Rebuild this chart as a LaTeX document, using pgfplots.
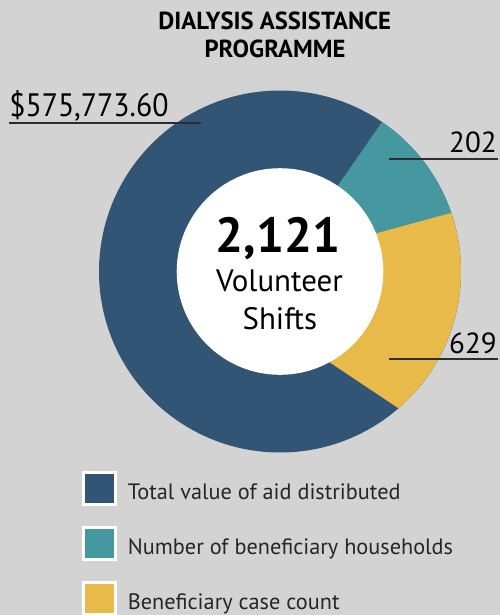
\documentclass[border=0pt]{standalone}
\usepackage{graphicx}
\usepackage{pgfplots}
\pgfplotsset{compat=1.18}
\usepackage{fontspec}
\setmainfont{PT Sans}
\definecolor{bg}{RGB}{211,211,211}
\definecolor{cblue}{RGB}{50,84,117}
\definecolor{cteal}{RGB}{69,152,160}
\definecolor{cyellow}{RGB}{232,186,74}
\definecolor{uline}{RGB}{45,45,45}
\begin{document}
\begin{tikzpicture}
\begin{axis}[
  x=0.75pt, y=0.75pt, y dir=reverse,
  xmin=0, xmax=500, ymin=0, ymax=615,
  enlargelimits=false, hide axis, clip=false,
  legend cell align=left,
  legend style={at={(axis cs:82.2,471.2)}, anchor=north west, draw=none, fill=none,
    inner sep=0pt, outer sep=0pt, row sep=14.9pt, column sep=8pt,
    font=\fontsize{16.7}{18}\selectfont, text=black!85,
    nodes={inner sep=0pt}},
]
% background
\fill[bg] (axis cs:0,0) rectangle (axis cs:500,615);
\coordinate (bbA) at (axis cs:0,615);
\coordinate (bbB) at (axis cs:500,0);
% donut: centre (280,271.5), outer radius 181, inner radius 103.3 (axis units)
\fill[cblue] (axis cs:280,271.5) circle[radius=135.75pt];
% teal slice: outer 55.7 -> 18.9 deg
\fill[cteal] (axis cs:{280+181*cos(55.7)},{271.5-181*sin(55.7)})
  arc[start angle=55.7, end angle=18.9, radius=135.75pt]
  -- (axis cs:{280+103.3*cos(21.7)},{271.5-103.3*sin(21.7)})
  -- (axis cs:280,271.5)
  -- (axis cs:{280+103.3*cos(56)},{271.5-103.3*sin(56)}) -- cycle;
% yellow slice: outer 18.9 -> -49.1 deg
\fill[cyellow] (axis cs:{280+181*cos(18.9)},{271.5-181*sin(18.9)})
  arc[start angle=18.9, end angle=-49.1, radius=135.75pt]
  -- (axis cs:{280+103.3*cos(-61.4)},{271.5-103.3*sin(-61.4)})
  -- (axis cs:280,271.5)
  -- (axis cs:{280+103.3*cos(21.7)},{271.5-103.3*sin(21.7)}) -- cycle;
\fill[white] (axis cs:280,271.5) circle[radius=77.475pt];
% title
\node[anchor=base, font=\fontsize{18.5}{20}\bfseries\selectfont] at (axis cs:274.7,29) {DIALYSIS ASSISTANCE};
\node[anchor=base, font=\fontsize{18.5}{20}\bfseries\selectfont] at (axis cs:275,57.3) {PROGRAMME};
% centre text
\node[anchor=base, font=\fontsize{37}{40}\bfseries\selectfont, inner sep=0pt] at (axis cs:278,252.7) {2,121};
\node[anchor=base, font=\fontsize{23.2}{24}\selectfont, inner sep=0pt] at (axis cs:279.5,291.7) {Volunteer};
\node[anchor=base, font=\fontsize{23.2}{24}\selectfont, inner sep=0pt] at (axis cs:279.9,329) {Shifts};
% value labels
\node[anchor=base west, font=\fontsize{24.3}{26}\selectfont, inner sep=0pt] at (axis cs:9,116) {\scalebox{0.92}[1]{\$575,773.60}};
\draw[uline, line width=1.5pt] (axis cs:9.3,123.3) -- (axis cs:201,123.3);
\node[anchor=base east, font=\fontsize{21.8}{24}\selectfont, inner sep=0pt] at (axis cs:497,152.7) {202};
\draw[uline, line width=1.2pt] (axis cs:389.3,158.7) -- (axis cs:498.3,158.7);
\node[anchor=base east, font=\fontsize{21.8}{24}\selectfont, inner sep=0pt] at (axis cs:497,353.3) {629};
\draw[uline, line width=1.2pt] (axis cs:389.3,359) -- (axis cs:498.3,359);
% legend
\addlegendimage{legend image code/.code={\draw[fill=cblue, draw=white, line width=2.25pt] (0pt,-8.75pt) rectangle (24pt,15.25pt);}}
\addlegendentry{Total value of aid distributed}
\addlegendimage{legend image code/.code={\draw[fill=cteal, draw=white, line width=2.25pt] (0pt,-8.75pt) rectangle (24pt,15.25pt);}}
\addlegendentry{Number of beneficiary households}
\addlegendimage{legend image code/.code={\draw[fill=cyellow, draw=white, line width=2.25pt] (0pt,-8.75pt) rectangle (24pt,15.25pt);}}
\addlegendentry{Beneficiary case count}
\end{axis}
\pgfresetboundingbox
\useasboundingbox (bbA) rectangle (bbB);
\end{tikzpicture}
\end{document}
